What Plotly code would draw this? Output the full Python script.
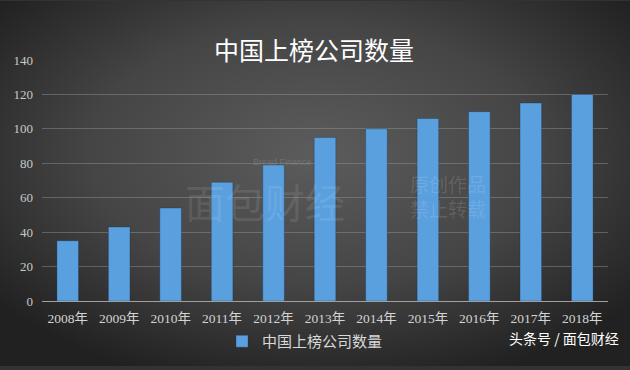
import base64
import plotly.graph_objects as go

years = ["2008年", "2009年", "2010年", "2011年", "2012年", "2013年",
         "2014年", "2015年", "2016年", "2017年", "2018年"]
counts = [35, 43, 54, 69, 79, 95, 100, 106, 110, 115, 120]
series_name = "中国上榜公司数量"
title_text = "中国上榜公司数量"
y_ticks = [0, 20, 40, 60, 80, 100, 120, 140]

W, H = 630, 370
L, R, T, B = 42, 22, 60, 66
pw, ph = W - L - R, H - T - B

svg = f'''<svg xmlns="http://www.w3.org/2000/svg" width="{W}" height="{H}" viewBox="0 0 {W} {H}" preserveAspectRatio="none">
<defs><radialGradient id="g" cx="50%" cy="42%" r="65%">
<stop offset="0%" stop-color="#5c5c5c"/>
<stop offset="55%" stop-color="#454545"/>
<stop offset="100%" stop-color="#212121"/>
</radialGradient></defs>
<rect width="{W}" height="{H}" fill="url(#g)"/>
</svg>'''
bg_src = "data:image/svg+xml;base64," + base64.b64encode(svg.encode()).decode()

fig = go.Figure()
fig.add_trace(go.Bar(
    x=years, y=counts, name=series_name,
    marker=dict(color="#5aa0de", line=dict(color="rgba(20,40,70,0.5)", width=0.6)),
    width=0.42,
))

fig.add_layout_image(dict(
    source=bg_src, xref="paper", yref="paper",
    x=-L / pw, y=1 + T / ph, sizex=W / pw, sizey=H / ph,
    xanchor="left", yanchor="top", sizing="stretch", layer="below",
))

cjk = "Noto Sans CJK SC, sans-serif"
serif = "Liberation Serif, Noto Sans CJK SC, serif"

def px_x(px):
    return (px - L) / pw

def px_y(py):
    return (T + ph - py) / ph

annotations = [
    dict(text=title_text, x=px_x(314), y=px_y(29), xref="paper", yref="paper",
         showarrow=False, font=dict(family=cjk, size=25, color="#ffffff")),
    dict(text="头条号 / 面包财经", x=px_x(621), y=px_y(354), xref="paper", yref="paper",
         xanchor="right", showarrow=False, font=dict(family=cjk, size=14, color="#ffffff")),
    dict(text="原创作品<br>禁止转载", x=px_x(448), y=px_y(198), xref="paper", yref="paper",
         xanchor="center", showarrow=False, align="left",
         font=dict(family=cjk, size=19, color="rgba(255,255,255,0.13)")),
    dict(text="面包财经", x=px_x(265), y=px_y(203), xref="paper", yref="paper",
         showarrow=False, font=dict(family=cjk, size=40, color="rgba(255,255,255,0.10)")),
    dict(text="Bread Finance", x=px_x(282), y=px_y(163), xref="paper", yref="paper",
         showarrow=False, font=dict(family="Liberation Sans", size=9, color="rgba(255,255,255,0.15)")),
]

fig.update_layout(
    width=W, height=H,
    margin=dict(l=L, r=R, t=T, b=B),
    paper_bgcolor="#333333",
    plot_bgcolor="rgba(0,0,0,0)",
    showlegend=True,
    legend=dict(orientation="h", x=px_x(222), xanchor="left", y=px_y(345), yanchor="middle",
                font=dict(family=cjk, size=15, color="#d8d8d8"), bgcolor="rgba(0,0,0,0)"),
    annotations=annotations,
    xaxis=dict(tickfont=dict(family=serif, size=13.5, color="#d4d4d4"),
               showgrid=False, showline=True, linecolor="#a0a0a0", linewidth=1.2,
               ticks="", fixedrange=True, ticklabelstandoff=5),
    yaxis=dict(range=[0, 140], tickvals=y_ticks, tickfont=dict(family=serif, size=13, color="#c8c8c8"),
               showgrid=True, gridcolor="rgba(150,150,150,0.45)", gridwidth=1,
               zeroline=False, showline=False, ticks="", ticklen=0, ticklabelstandoff=8),
)

fig.write_html(
    "out.html",
    config={"displayModeBar": False},
    post_script="document.body.style.margin='0';document.body.style.padding='0';"
                "document.body.style.overflow='hidden';document.documentElement.style.overflow='hidden';",
)
